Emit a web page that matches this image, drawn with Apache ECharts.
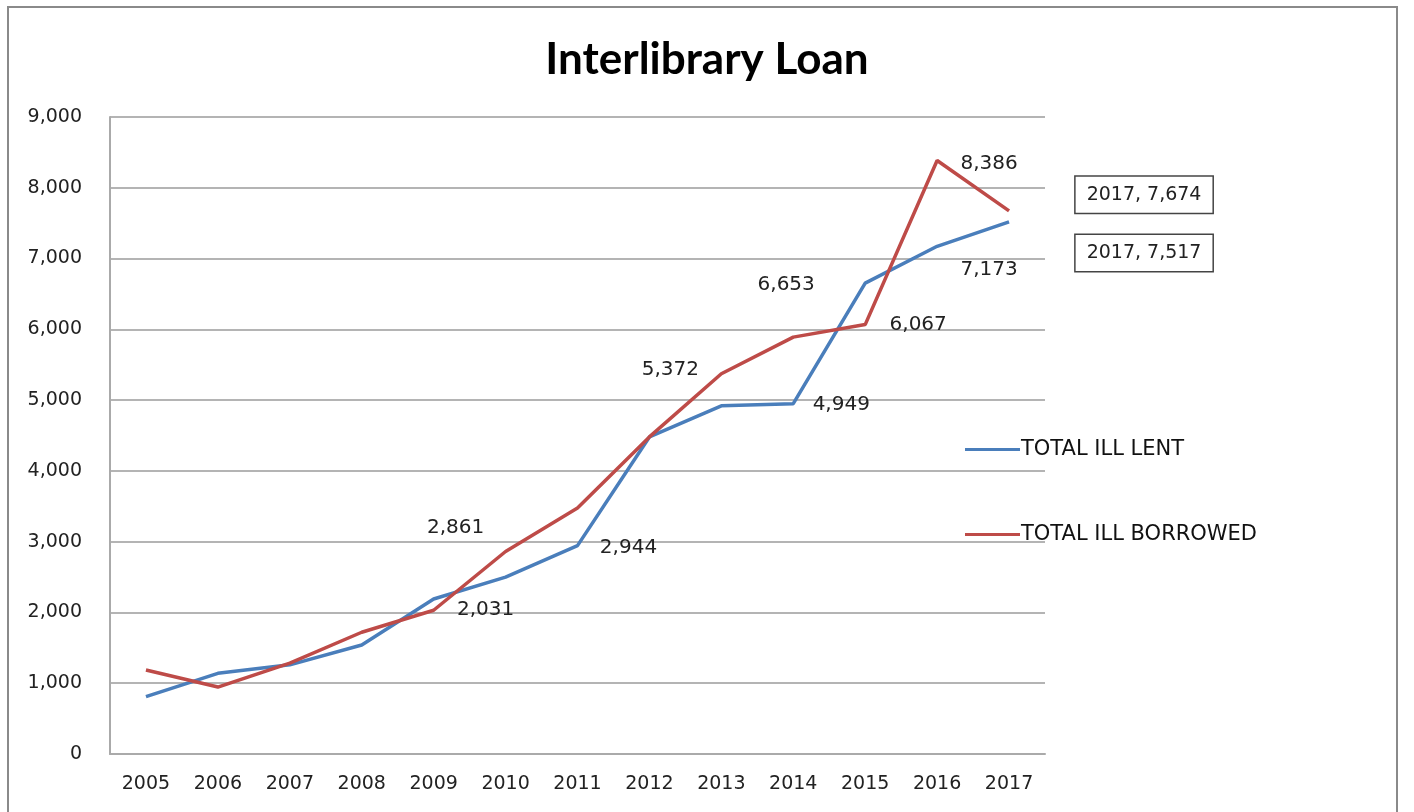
<!DOCTYPE html>
<html><head><meta charset="utf-8">
<script src="https://cdn.jsdelivr.net/npm/echarts@6/dist/echarts.min.js"></script>
<style>html,body{margin:0;padding:0;background:#fff}#c{width:1414px;height:812px}</style>
</head><body><div id="c"></div>
<script>
const years = ['2005','2006','2007','2008','2009','2010','2011','2012','2013','2014','2015','2016','2017'];
const lent = [810, 1140, 1260, 1540, 2190, 2500, 2944, 4480, 4920, 4949, 6653, 7173, 7517];
const borrowed = [1186, 946, 1285, 1720, 2031, 2861, 3474, 4480, 5372, 5890, 6067, 8386, 7674];
const yTicks = [0, 1000, 2000, 3000, 4000, 5000, 6000, 7000, 8000, 9000];

const fmt = v => v.toLocaleString('en-US');
const lblFont = {fontFamily: 'DejaVu Sans', fontSize: 20, color: '#222'};
// label placement per index (style only)
const lentLabels = {
  6: {offset: [51, 2]},
  9: {offset: [48, 1]},
  10: {offset: [-79, 2]},
  11: {offset: [52, 23]},
  12: {callout: true, offset: [135, 31], size: 19}
};
const borLabels = {
  4: {offset: [52, 0]},
  5: {offset: [-50, -24]},
  8: {offset: [-51, -4]},
  10: {offset: [53, 0]},
  11: {offset: [52, 3]},
  12: {callout: true, offset: [135, -16], size: 19}
};
function build(vals, cfg) {
  return vals.map((v, i) => {
    const c = cfg[i];
    if (!c) return v;
    const label = Object.assign({show: true, position: 'inside', offset: c.offset}, lblFont);
    if (c.callout) {
      label.fontSize = c.size;
      label.formatter = () => years[i] + ', ' + fmt(v);
      label.borderColor = '#444'; label.borderWidth = 1.5;
      label.padding = [9, 11, 8, 11]; label.backgroundColor = '#fff';
    } else {
      label.formatter = () => fmt(v);
    }
    return {value: v, label};
  });
}

const chart = echarts.init(document.getElementById('c'));
chart.setOption({
  animation: false,
  backgroundColor: '#fff',
  title: {text: 'Interlibrary Loan', left: 'center', top: 33,
    textStyle: {fontFamily: 'Lato, Noto Sans', fontWeight: 'bold', fontSize: 44, color: '#000'}},
  graphic: [{type: 'rect', shape: {x: 8, y: 7, width: 1389, height: 820},
    style: {fill: 'none', stroke: '#8a8a8a', lineWidth: 2}, silent: true}],
  grid: {left: 110, right: 369, top: 117, bottom: 58, containLabel: false},
  legend: {orient: 'vertical', left: 960, top: 434, itemGap: 64, icon: 'rect',
    itemWidth: 55, itemHeight: 3,
    textStyle: {fontFamily: 'DejaVu Sans', fontSize: 21, color: '#111', padding: [0, 0, 0, -4]},
    data: ['TOTAL ILL LENT', 'TOTAL ILL BORROWED']},
  xAxis: {type: 'category', data: years, boundaryGap: true,
    axisLine: {lineStyle: {color: '#aaa', width: 2}}, axisTick: {show: false},
    axisLabel: {fontFamily: 'DejaVu Sans', fontSize: 19, color: '#222', margin: 21}},
  yAxis: {type: 'value', min: yTicks[0], max: yTicks[yTicks.length - 1], interval: 1000,
    axisLine: {show: true, lineStyle: {color: '#aaa', width: 2}}, axisTick: {show: false},
    splitLine: {lineStyle: {color: '#b4b4b4', width: 2}},
    axisLabel: {fontFamily: 'DejaVu Sans', fontSize: 19, color: '#222', margin: 28,
      formatter: v => fmt(v)}},
  series: [
    {name: 'TOTAL ILL LENT', type: 'line', data: build(lent, lentLabels),
      symbol: 'circle', symbolSize: 0.01, showSymbol: true,
      lineStyle: {color: '#4a7ebb', width: 3.5}, itemStyle: {color: '#4a7ebb'}, z: 3},
    {name: 'TOTAL ILL BORROWED', type: 'line', data: build(borrowed, borLabels),
      symbol: 'circle', symbolSize: 0.01, showSymbol: true,
      lineStyle: {color: '#be4b48', width: 3.5}, itemStyle: {color: '#be4b48'}, z: 4}
  ]
});
</script></body></html>
